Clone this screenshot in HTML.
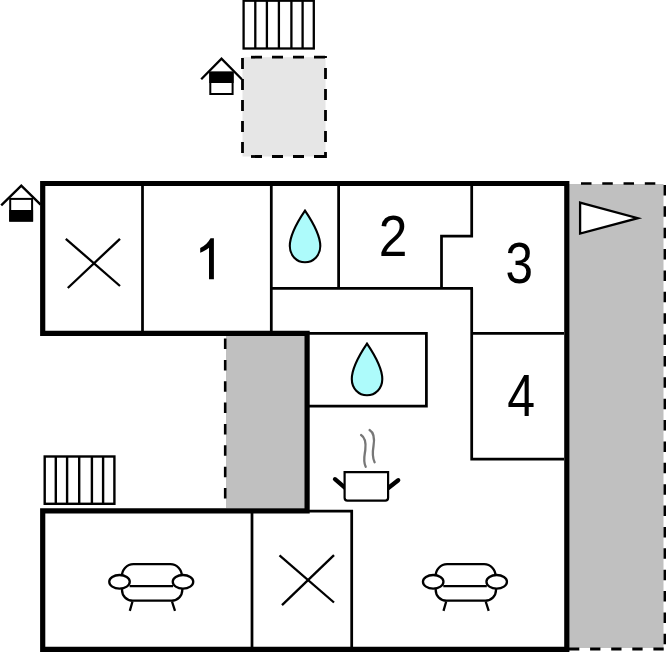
<!DOCTYPE html>
<html>
<head>
<meta charset="utf-8">
<style>
html,body{margin:0;padding:0;background:#fff;width:666px;height:652px;overflow:hidden;}
svg{display:block;}
text{font-family:"Liberation Sans", sans-serif;}
</style>
</head>
<body>
<svg width="666" height="652" viewBox="0 0 666 652">
<!-- patio (light grey, dashed) -->
<rect x="242.5" y="57.2" width="83" height="99.3" fill="#e6e6e6"/>
<g stroke="#000" stroke-width="2.8" fill="none">
  <line x1="241" y1="57.2" x2="327" y2="57.2" stroke-dasharray="11 10" stroke-dashoffset="11"/>
  <line x1="241" y1="156.5" x2="327" y2="156.5" stroke-dasharray="11 10" stroke-dashoffset="11"/>
  <line x1="242.5" y1="58" x2="242.5" y2="158" stroke-dasharray="11 10"/>
  <line x1="325.5" y1="56" x2="325.5" y2="158" stroke-dasharray="11 10" stroke-dashoffset="-12"/>
</g>
<!-- top radiator -->
<g stroke="#000" stroke-width="2.3" fill="#fff">
  <rect x="243.6" y="0.7" width="70.2" height="47.8"/>
  <path d="M255.3,0 V48.5 M266.9,0 V48.5 M278.9,0 V48.5 M291.4,0 V48.5 M302.6,0 V48.5" fill="none"/>
</g>
<!-- house icon 2 -->
<g>
  <rect x="210.3" y="72.6" width="22.3" height="21.4" fill="#fff" stroke="#000" stroke-width="2"/>
  <rect x="209.3" y="71.6" width="24.3" height="11.4" fill="#000"/>
  <path d="M201.2,79.2 L221.5,58.6 L241.8,79.2" fill="none" stroke="#000" stroke-width="2.3"/>
</g>

<!-- right strip grey -->
<rect x="569" y="184" width="94.5" height="464" fill="#c0c0c0"/>
<g stroke="#000" stroke-width="2.6" fill="none">
  <line x1="581" y1="183.5" x2="666" y2="183.5" stroke-dasharray="10.5 10.77"/>
  <line x1="665" y1="185" x2="665" y2="647" stroke-width="3" stroke-dasharray="10.5 10.87"/>
  <line x1="569" y1="649.1" x2="666" y2="649.1" stroke-width="3" stroke-dasharray="10.3 10.8"/>
</g>
<!-- flag -->
<path d="M580.1,202.6 L637.8,218.2 L580.1,233.6 Z" fill="#fff" stroke="#000" stroke-width="2.3" stroke-linejoin="miter"/>

<!-- middle grey strip -->
<rect x="226" y="336" width="79" height="172" fill="#c0c0c0"/>
<line x1="225.2" y1="338.6" x2="225.2" y2="508" stroke="#000" stroke-width="2.6" stroke-dasharray="10.5 10.84"/>

<!-- thin walls -->
<g stroke="#000" stroke-width="2.75" fill="none">
  <path d="M142.5,186 V331"/>
  <path d="M271.3,186 V331"/>
  <path d="M338.6,186 V288.3"/>
  <path d="M271.3,288.3 H473"/>
  <path d="M471.7,186 V236 H441.5 V288.3"/>
  <path d="M471.7,288.3 V459.2 H564"/>
  <path d="M471.7,333.4 H564"/>
  <path d="M309,333.4 H426.4 V406.1 H309"/>
  <path d="M309,511 H351.7 V647"/>
  <path d="M252,513 V647"/>
</g>

<!-- thick walls -->
<g stroke="#000" stroke-width="5.2" fill="none" stroke-linejoin="miter">
  <path d="M42.7,333.3 V183.5 H566.8 V649.3 H42.7 V510.9 H307.1 V333.3 Z"/>
</g>

<!-- house icon 1 -->
<g>
  <rect x="10.2" y="198.9" width="21.9" height="21.7" fill="#fff" stroke="#000" stroke-width="2"/>
  <rect x="9.2" y="210" width="23.9" height="11.6" fill="#000"/>
  <path d="M1.2,205.3 L21.3,185.6 L40.6,204.6" fill="none" stroke="#000" stroke-width="2.4"/>
</g>

<!-- X marks -->
<g stroke="#000" stroke-width="2.3">
  <line x1="65.8" y1="238.8" x2="120" y2="286"/>
  <line x1="120" y1="238.8" x2="67.8" y2="288"/>
  <line x1="279.5" y1="555.4" x2="334" y2="602.5"/>
  <line x1="334" y1="555.2" x2="282" y2="605.2"/>
</g>

<!-- numbers -->
<path d="M209,279.2 V247.8 C206.5,249.8 203.5,251.5 200.2,252.8 V248.1 C204.5,246 208.3,242.5 210.5,238.2 H213.9 V279.2 Z" fill="#000"/>
<g font-size="100" fill="#000">
  <text transform="matrix(0.5158,0,0,0.580,378.86,256.15)">2</text>
  <text transform="matrix(0.4936,0,0,0.582,505.57,283.28)">3</text>
  <text transform="matrix(0.5001,0,0,0.588,507.3,416.45)">4</text>
</g>

<!-- drops -->
<g fill="#adfbfb" stroke="#000" stroke-width="2.1" stroke-linejoin="miter">
  <path d="M305,210.6 C300,218 289.8,234 289.8,246 C289.8,255.5 296.6,262.2 305,262.2 C313.4,262.2 320.3,255.5 320.3,246 C320.3,234 310,218 305,210.6 Z"/>
  <path d="M367,343.6 C362,351 351.8,367 351.8,379 C351.8,388.5 358.6,395.2 367,395.2 C375.4,395.2 382.3,388.5 382.3,379 C382.3,367 372,351 367,343.6 Z"/>
</g>

<!-- pot -->
<g stroke="#000" fill="#fff">
  <path d="M335,479.2 L346,488.6 M398.2,480.2 L387,489" stroke-width="4.3" stroke-linecap="round" fill="none"/>
  <path d="M344.6,472.2 H388.1 V497.8 Q388.1,500.6 385.3,500.6 H347.4 Q344.6,500.6 344.6,497.8 Z" stroke-width="2.2"/>
</g>
<g stroke="#777" stroke-width="2.3" fill="none" stroke-linecap="round">
  <path d="M361.1,435 C366,438 366,444 365.3,450 C364.5,456 362.8,461 365.7,466.8"/>
  <path d="M369.6,430 C374.5,433 374.5,440 373.5,446 C372.5,452 372,457 374.6,462.2"/>
</g>

<!-- bottom radiator -->
<g stroke="#000" stroke-width="2.4" fill="#fff">
  <rect x="44.7" y="456.5" width="69.7" height="47.3"/>
  <path d="M55.8,456.5 V503.8 M67.1,456.5 V503.8 M79.2,456.5 V503.8 M91.9,456.5 V503.8 M103.1,456.5 V503.8" fill="none"/>
</g>

<!-- sofas -->
<g id="sofa" stroke="#000" stroke-width="2.3" fill="none">
  <path d="M122,576 A11.4,11.4 0 0 1 133.4,564.2 H170.4 A11.4,11.4 0 0 1 181.8,576"/>
  <path d="M122,588 V590 A10.7,10.7 0 0 0 132.7,600.7 H171.6 A10.7,10.7 0 0 0 182.3,590 V588"/>
  <path d="M129.6,586.1 H173.1"/>
  <ellipse cx="119.5" cy="581.8" rx="10.25" ry="6.8" fill="#fff"/>
  <ellipse cx="183" cy="581.8" rx="10.25" ry="6.8" fill="#fff"/>
  <path d="M132.5,601.5 L129.8,610.9 M172,601.5 L175,610.9"/>
</g>
<g transform="translate(313.7,0)" stroke="#000" stroke-width="2.3" fill="none">
  <path d="M122,576 A11.4,11.4 0 0 1 133.4,564.2 H170.4 A11.4,11.4 0 0 1 181.8,576"/>
  <path d="M122,588 V590 A10.7,10.7 0 0 0 132.7,600.7 H171.6 A10.7,10.7 0 0 0 182.3,590 V588"/>
  <path d="M129.6,586.1 H173.1"/>
  <ellipse cx="119.5" cy="581.8" rx="10.25" ry="6.8" fill="#fff"/>
  <ellipse cx="183" cy="581.8" rx="10.25" ry="6.8" fill="#fff"/>
  <path d="M132.5,601.5 L129.8,610.9 M172,601.5 L175,610.9"/>
</g>
</svg>
</body>
</html>
